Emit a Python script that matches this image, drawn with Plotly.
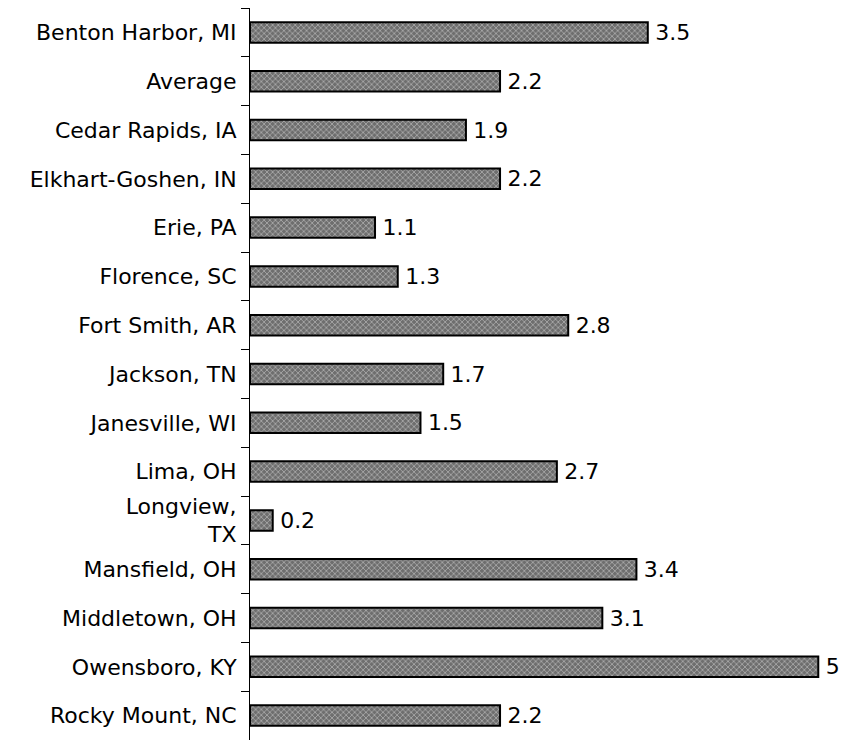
import plotly.graph_objects as go

categories = ["Benton Harbor, MI", "Average", "Cedar Rapids, IA", "Elkhart-Goshen, IN",
              "Erie, PA", "Florence, SC", "Fort Smith, AR", "Jackson, TN", "Janesville, WI",
              "Lima, OH", "Longview, TX", "Mansfield, OH", "Middletown, OH", "Owensboro, KY",
              "Rocky Mount, NC"]
values = [3.5, 2.2, 1.9, 2.2, 1.1, 1.3, 2.8, 1.7, 1.5, 2.7, 0.2, 3.4, 3.1, 5, 2.2]
tick_labels = ["Benton Harbor, MI", "Average", "Cedar Rapids, IA", "Elkhart-Goshen, IN",
               "Erie, PA", "Florence, SC", "Fort Smith, AR", "Jackson, TN", "Janesville, WI",
               "Lima, OH", "Longview,<br>TX", "Mansfield, OH", "Middletown, OH", "Owensboro, KY",
               "Rocky Mount, NC"]

FONT = "DejaVu Sans, Liberation Sans, Arial"

fig = go.Figure(go.Bar(
    x=values, y=categories, orientation="h",
    marker=dict(color="#777777", line=dict(color="black", width=2),
                pattern=dict(shape="x", fgcolor="#f0f0f0", bgcolor="#6e6e6e", size=4, solidity=0.35)),
    text=["\u2009" + str(v) for v in values], textposition="outside",
    textfont=dict(family=FONT, size=22, color="black"),
    constraintext="none",
    cliponaxis=False,
))

fig.update_layout(
    width=843, height=740,
    margin=dict(l=250, r=2, t=8, b=0),
    plot_bgcolor="white", paper_bgcolor="white",
    font=dict(family=FONT, size=22, color="black"),
    showlegend=False, bargap=0.58,
    xaxis=dict(range=[0, 5.2], visible=False, automargin=False),
    yaxis=dict(autorange="reversed", tickmode="array", tickvals=categories, ticktext=tick_labels,
               showline=True, linecolor="black", linewidth=1, automargin=False,
               ticks="outside", tickson="boundaries", ticklen=8, tickcolor="black",
               ticklabelstandoff=8,
               showgrid=False, zeroline=False),
)

fig.write_html("out.html",
               config={"displayModeBar": False},
               post_script="document.body.style.margin='0';document.body.style.overflow='hidden';")
